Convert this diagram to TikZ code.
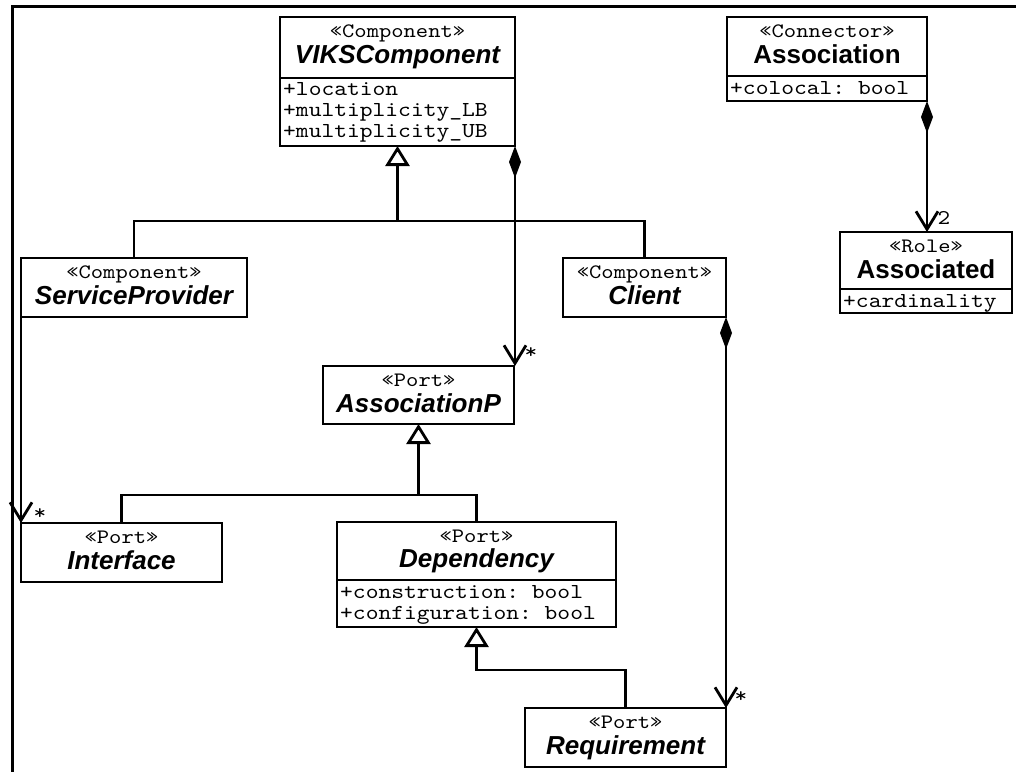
\documentclass[tikz,border=0pt]{standalone}
\usepackage{fontspec}
\setmainfont{Liberation Sans}
\setmonofont{lmmono10-regular}[Extension=.otf,FakeStretch=1.143]
\usetikzlibrary{arrows.meta,calc}
\begin{document}
\begin{tikzpicture}[x=1pt,y=-1pt,
  lw/.style={line width=2.8pt},
  box/.style={draw,lw,anchor=north west,inner sep=0pt,outer sep=0pt},
  ster/.style={anchor=base,inner sep=0pt,font=\fontsize{20.5}{20.5}\selectfont\ttfamily},
  nm/.style={anchor=base,inner sep=0pt,font=\fontsize{26}{26}\selectfont\bfseries\itshape},
  nmup/.style={anchor=base,inner sep=0pt,font=\fontsize{26}{26}\selectfont\bfseries},
  attr/.style={anchor=base west,inner sep=0pt,font=\fontsize{21.3}{21.3}\selectfont\ttfamily},
  mult/.style={inner sep=0pt,font=\fontsize{21}{21}\selectfont\ttfamily},
  gen/.style={lw,-{Triangle[open,length=20pt,width=24pt]}},
  comp/.style={lw,{Diamond[length=32pt,width=12pt]}-{Straight Barb[length=18pt,width=22pt]}},
  assocline/.style={lw,-{Straight Barb[length=18pt,width=22pt]}},
  sepline/.style={lw}
]
\useasboundingbox (0,0) rectangle (1016,772);
% frame
\draw[line width=3pt] (1016,6) -- (12,6) -- (12,772);

% boxes
\node[box,minimum width=235pt,minimum height=129pt] (viks) at (280,17) {};
\node[box,minimum width=200pt,minimum height=84pt] (assoc) at (727,17) {};
\node[box,minimum width=172pt,minimum height=81pt] (associated) at (840,232) {};
\node[box,minimum width=226pt,minimum height=59pt] (sp) at (21,258) {};
\node[box,minimum width=163pt,minimum height=59pt] (client) at (563,258) {};
\node[box,minimum width=191pt,minimum height=58pt] (assocp) at (323,366) {};
\node[box,minimum width=201pt,minimum height=59pt] (intf) at (21,523) {};
\node[box,minimum width=279pt,minimum height=105pt] (dep) at (337,522) {};
\node[box,minimum width=201pt,minimum height=59pt] (req) at (525,708) {};

% separators
\draw[sepline] (viks.west |- 0,78) -- (viks.east |- 0,78);
\draw[sepline] (assoc.west |- 0,76) -- (assoc.east |- 0,76);
\draw[sepline] (associated.west |- 0,289) -- (associated.east |- 0,289);
\draw[sepline] (dep.west |- 0,580) -- (dep.east |- 0,580);

% texts
\node[ster] (viks-s) at ($(viks.north)+(0,20)$) {«Component»};
\node[nm] (viks-n) at ($(viks.north)+(0,46)$) {VIKSComponent};
\node[attr] (viks-a1) at ($(viks.north west)+(3,78)$) {+location};
\node[attr] (viks-a2) at ($(viks.north west)+(3,99)$) {+multiplicity\_LB};
\node[attr] (viks-a3) at ($(viks.north west)+(3,120)$) {+multiplicity\_UB};

\node[ster] (assoc-s) at ($(assoc.north)+(0,20)$) {«Connector»};
\node[nmup] (assoc-n) at ($(assoc.north)+(0,46)$) {Association};
\node[attr] (assoc-a1) at ($(assoc.north west)+(3,77)$) {+colocal: bool};

\node[ster] (associated-s) at ($(associated.north)+(0,20)$) {«Role»};
\node[nmup] (associated-n) at ($(associated.north)+(0,46)$) {Associated};
\node[attr] (associated-a1) at ($(associated.north west)+(3,75)$) {+cardinality};

\node[ster] (sp-s) at ($(sp.north)+(0,20)$) {«Component»};
\node[nm] (sp-n) at ($(sp.north)+(0,46)$) {ServiceProvider};

\node[ster] (client-s) at ($(client.north)+(0,20)$) {«Component»};
\node[nm] (client-n) at ($(client.north)+(0,46)$) {Client};

\node[ster] (assocp-s) at ($(assocp.north)+(0,20)$) {«Port»};
\node[nm] (assocp-n) at ($(assocp.north)+(0,46)$) {AssociationP};

\node[ster] (intf-s) at ($(intf.north)+(0,20)$) {«Port»};
\node[nm] (intf-n) at ($(intf.north)+(0,46)$) {Interface};

\node[ster] (dep-s) at ($(dep.north)+(0,20)$) {«Port»};
\node[nm] (dep-n) at ($(dep.north)+(0,45)$) {Dependency};
\node[attr] (dep-a1) at ($(dep.north west)+(3,76)$) {+construction: bool};
\node[attr] (dep-a2) at ($(dep.north west)+(3,97)$) {+configuration: bool};

\node[ster] (req-s) at ($(req.north)+(0,20)$) {«Port»};
\node[nm] (req-n) at ($(req.north)+(0,46)$) {Requirement};

% junction coordinates
\coordinate (j1) at (viks.south |- 0,221);
\coordinate (j2) at (assocp.south |- 0,495);
\coordinate (j3) at (dep.south |- 0,670);

% generalizations
\draw[gen] (sp.north) |- (j1) -- (viks.south);
\draw[lw] (client.north) |- (j1);
\draw[gen] (intf.north) |- (j2) -- (assocp.south);
\draw[lw] (dep.north) |- (j2);
\draw[gen] (req.north) |- (j3) -- (dep.south);

% compositions / associations
\draw[comp] (viks.south east) -- (viks.south east |- assocp.north);
\draw[comp] (client.south east) -- (client.south east |- req.north);
\draw[comp] (assoc.south east) -- (assoc.south east |- associated.north);
\draw[assocline] (sp.south west) -- (sp.south west |- intf.north);

% multiplicities
\node[mult] (m1) at (531,353) {*};
\node[mult] (m2) at (40,514) {*};
\node[mult] (m3) at (741,697) {*};
\node[mult] (m4) at (944,218) {2};
\end{tikzpicture}
\end{document}
